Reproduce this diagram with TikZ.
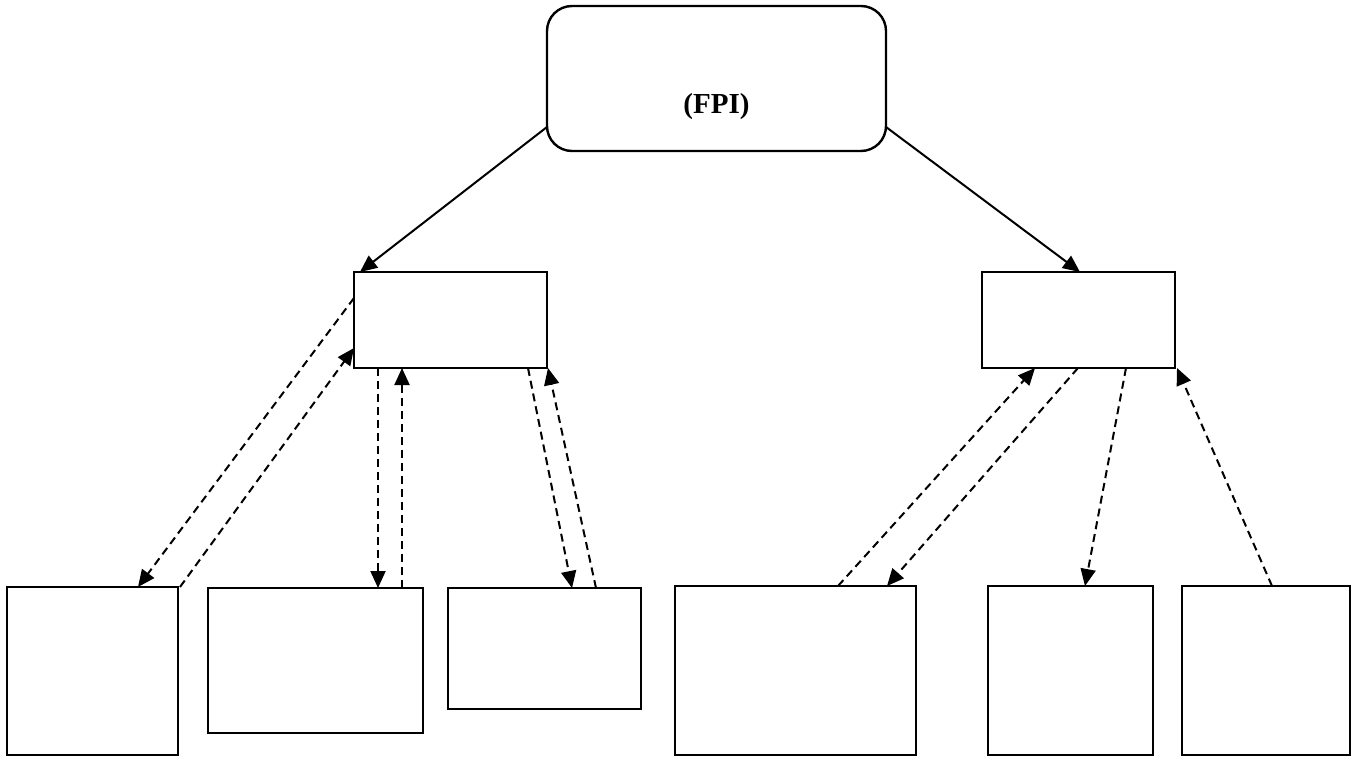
\documentclass[tikz,border=0pt]{standalone}
\usepackage{fontspec}
\setmainfont{Liberation Serif}
\usetikzlibrary{arrows.meta}
\begin{document}
\begin{tikzpicture}[x=1pt,y=-1pt,
  box/.style={draw, line width=2.4pt, inner sep=0pt, outer sep=0pt},
  link/.style={line width=2pt, -{Triangle[length=17pt,width=15pt]}},
  dlink/.style={link, dash pattern=on 8pt off 5pt}]
\useasboundingbox (0,0) rectangle (1355,757);
\node[box, rounded corners=25pt, minimum width=339pt, minimum height=145pt] (top) at (716.5,78.5) {};
\node[font=\bfseries\fontsize{29}{32}\selectfont] (fpi) at (716.5,107) {(FPI)};
\node[box, minimum width=193pt, minimum height=96pt] (m1) at (450.5,320) {};
\node[box, minimum width=193pt, minimum height=96pt] (m2) at (1078.5,320) {};
\node[box, minimum width=171pt, minimum height=168pt] (b1) at (92.5,671) {};
\node[box, minimum width=215pt, minimum height=145pt] (b2) at (315.5,660.5) {};
\node[box, minimum width=193pt, minimum height=121pt] (b3) at (544.5,648.5) {};
\node[box, minimum width=241pt, minimum height=169pt] (b4) at (795.5,670.5) {};
\node[box, minimum width=165pt, minimum height=169pt] (b5) at (1070.5,670.5) {};
\node[box, minimum width=168pt, minimum height=169pt] (b6) at (1266,670.5) {};
% solid arrows
\draw[link] ([yshift=24pt]top.south west) -- ([xshift=6pt]m1.north west);
\draw[link] ([yshift=24pt]top.south east) -- ([xshift=98pt]m2.north west);
% dashed arrows, left group
\draw[dlink] ([yshift=-26pt]m1.north west) -- ([xshift=131pt]b1.north west);
\draw[dlink] ([xshift=2pt]b1.north east) -- ([yshift=-76pt]m1.north west);
\draw[dlink] ([xshift=24pt]m1.south west) -- ([xshift=170pt]b2.north west);
\draw[dlink] ([xshift=194pt]b2.north west) -- ([xshift=48pt]m1.south west);
\draw[dlink] ([xshift=174pt]m1.south west) -- ([xshift=124pt]b3.north west);
\draw[dlink] ([xshift=148pt]b3.north west) -- ([xshift=1pt]m1.south east);
% dashed arrows, right group
\draw[dlink] ([xshift=163pt]b4.north west) -- ([xshift=53pt]m2.south west);
\draw[dlink] ([xshift=96pt]m2.south west) -- ([xshift=212pt]b4.north west);
\draw[dlink] ([xshift=144pt]m2.south west) -- ([xshift=97pt]b5.north west);
\draw[dlink] ([xshift=90pt]b6.north west) -- ([xshift=2pt]m2.south east);
\end{tikzpicture}
\end{document}
